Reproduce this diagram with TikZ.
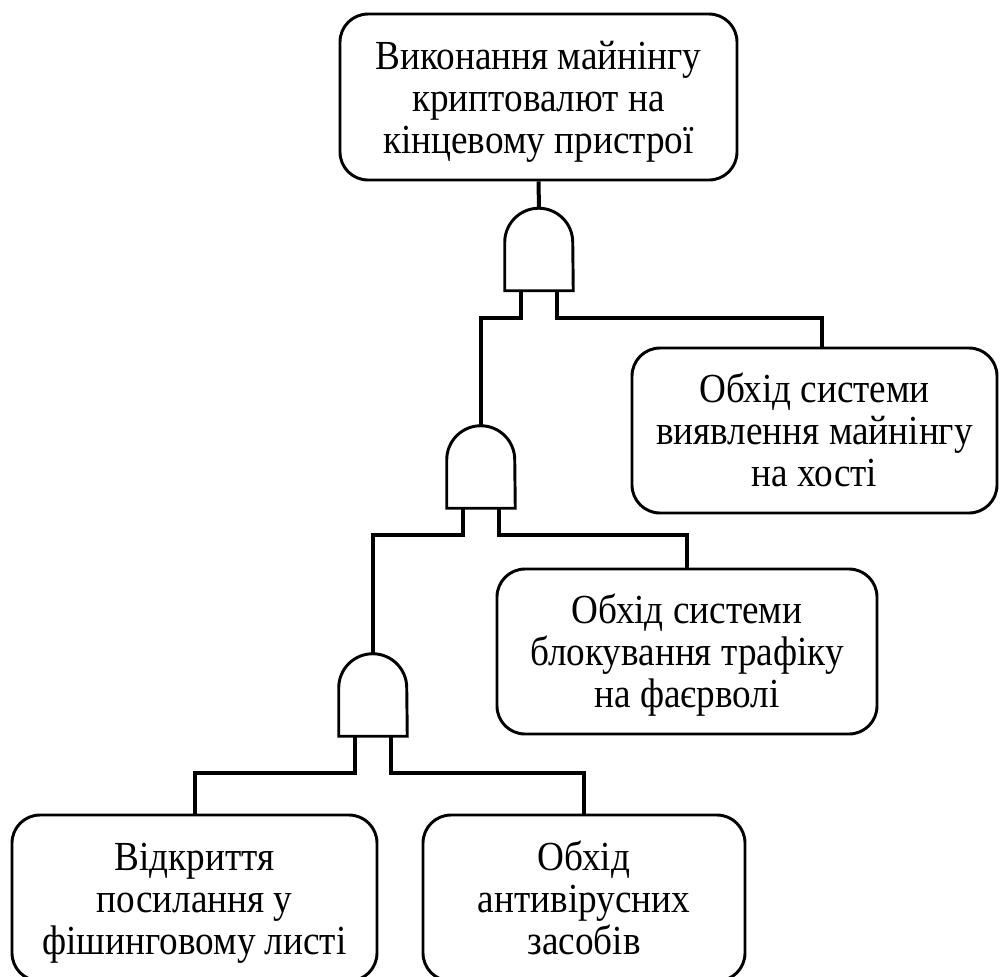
\documentclass[tikz,border=0pt]{standalone}
\usepackage{fontspec}
\setmainfont{Liberation Serif}
\usetikzlibrary{calc}
\newcommand{\boxtext}[1]{\scalebox{0.9}[1]{\begin{tabular}{@{}c@{}}\rule{0pt}{31pt}#1\end{tabular}}}
\begin{document}
\begin{tikzpicture}[x=0.75pt,y=-0.75pt,
  box/.style={draw, line width=2.2pt, rounded corners=21pt, inner sep=0pt,
    font=\fontsize{31}{31.5}\selectfont},
  gate/.style={inner sep=0pt, minimum width=51pt, minimum height=61.5pt},
  wire/.style={line width=3pt},
  gateline/.style={line width=2.2pt}]
\useasboundingbox (0,0) rectangle (1000,976);

% boxes
\node[box, minimum width=297.75pt, minimum height=124.5pt] (top) at (538.5,97)
  {\boxtext{Виконання майнінгу\\криптовалют на\\кінцевому пристрої}};
\node[box, minimum width=273.75pt, minimum height=123.75pt] (b2) at (814.5,430.5)
  {\boxtext{Обхід системи\\виявлення майнінгу\\на хості}};
\node[box, minimum width=285pt, minimum height=123.75pt] (b3) at (687,651.5)
  {\boxtext{Обхід системи\\блокування трафіку\\на фаєрволі}};
\node[box, minimum width=273.75pt, minimum height=124.5pt] (b4) at (194.5,898)
  {\boxtext{Відкриття\\посилання у\\фішинговому листі}};
\node[box, minimum width=241.5pt, minimum height=124.5pt] (b5) at (584,898)
  {\boxtext{Обхід\\антивірусних\\засобів}};

% gates
\node[gate] (g1) at (539,249.5) {};
\node[gate] (g2) at (481,467) {};
\node[gate] (g3) at (373,695) {};
\foreach \g in {g1,g2,g3}{
  \draw[gateline] (\g.south west) -- ($(\g.north west)+(0,34)$)
    arc[start angle=180,end angle=360,radius=34] -- (\g.south east) -- cycle;
}

% wires
\draw[wire] (top.south) -- (g1.north);
\draw[wire] ($(g1.south)+(-18,0)$) -- ++(0,27) -| (g2.north);
\draw[wire] ($(g1.south)+(18,0)$) -- ++(0,27) -| ($(b2.north)+(7.5,0)$);
\draw[wire] ($(g2.south)+(-18,0)$) -- ++(0,27) -| (g3.north);
\draw[wire] ($(g2.south)+(18,0)$) -- ++(0,27) -| (b3.north);
\draw[wire] ($(g3.south)+(-18,0)$) -- ++(0,37) -| (b4.north);
\draw[wire] ($(g3.south)+(18,0)$) -- ++(0,37) -| (b5.north);
\end{tikzpicture}
\end{document}
